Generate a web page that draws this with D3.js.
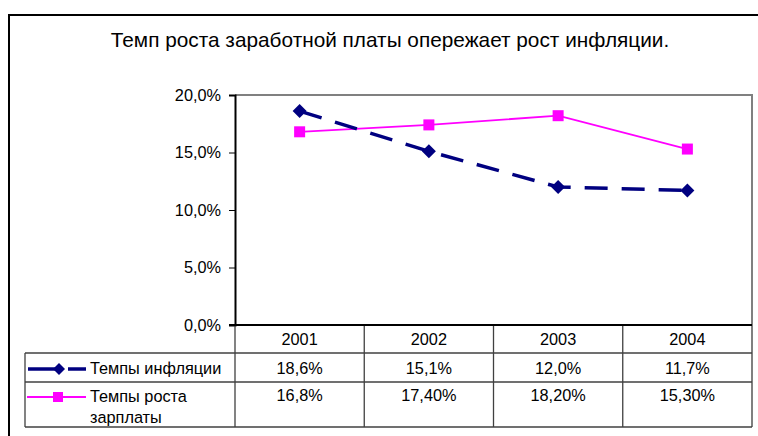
<!DOCTYPE html>
<html>
<head>
<meta charset="utf-8">
<script src="https://cdn.jsdelivr.net/npm/d3@7"></script>
<style>
  body { margin: 0; background: #fff; }
  svg { display: block; font-family: "Liberation Sans", Arial, sans-serif; }
</style>
</head>
<body>
<div id="chart"></div>
<script>
// data
var years = ["2001", "2002", "2003", "2004"];
var inflation = [18.6, 15.1, 12.0, 11.7];
var wages = [16.8, 17.4, 18.2, 15.3];
var inflationLabels = ["18,6%", "15,1%", "12,0%", "11,7%"];
var wagesLabels = ["16,8%", "17,40%", "18,20%", "15,30%"];
var yTicks = [0, 5, 10, 15, 20];
var title = "Темп роста заработной платы опережает рост инфляции.";
var seriesNames = ["Темпы инфляции", "Темпы роста", "зарплаты"];

var W = 758, H = 436;
var svg = d3.select("#chart").append("svg")
  .attr("width", W)
  .attr("height", H);

// outer frame (runs off the right and bottom edges)
svg.append("rect")
  .attr("x", 9).attr("y", 15)
  .attr("width", 800).attr("height", 500)
  .attr("fill", "none")
  .attr("stroke", "#000")
  .attr("stroke-width", 2);

svg.append("text")
  .attr("x", 390).attr("y", 47)
  .attr("text-anchor", "middle")
  .attr("font-size", 20.8)
  .text(title);

var x = d3.scaleBand().domain(years).range([235, 752]).padding(0);
var y = d3.scaleLinear().domain([0, 20]).range([325, 95]);
var cx = function(d) { return x(d) + x.bandwidth() / 2; };

var rowTop = 325, rowYear = 353, rowInf = 382, rowBottom = 427, tableLeft = 25;

// plot border (top + right)
svg.append("path")
  .attr("d", "M" + x.range()[0] + "," + y(20) + "H" + x.range()[1] + "V" + rowBottom)
  .attr("fill", "none")
  .attr("stroke", "#808080")
  .attr("stroke-width", 2);

// y axis
var yAxis = d3.axisLeft(y)
  .tickValues(yTicks)
  .tickSize(6)
  .tickPadding(8)
  .tickFormat(function(d) { return d.toFixed(1).replace(".", ",") + "%"; });

var ga = svg.append("g")
  .attr("transform", "translate(" + x.range()[0] + ",0)")
  .call(yAxis);
ga.select(".domain").attr("stroke", "#000").attr("stroke-width", 2);
ga.selectAll(".tick line").attr("stroke", "#000");
ga.selectAll(".tick text").attr("font-size", 16.3).attr("fill", "#000")
  .style("font-family", "Liberation Sans, Arial, sans-serif");

// table grid
var grid = svg.append("g").attr("stroke", "#404040").attr("stroke-width", 1.3);
[rowYear, rowInf, rowBottom].forEach(function(r) {
  grid.append("line")
    .attr("x1", tableLeft).attr("x2", x.range()[1])
    .attr("y1", r).attr("y2", r);
});
grid.append("line")
  .attr("x1", tableLeft).attr("x2", tableLeft)
  .attr("y1", rowYear).attr("y2", rowBottom);
years.forEach(function(d) {
  grid.append("line")
    .attr("x1", x(d)).attr("x2", x(d))
    .attr("y1", rowTop)
    .attr("y2", rowBottom);
});
svg.append("line")
  .attr("x1", x.range()[0] - 6).attr("x2", x.range()[1])
  .attr("y1", rowTop).attr("y2", rowTop)
  .attr("stroke", "#000").attr("stroke-width", 2);

// table text
var tt = svg.append("g").attr("font-size", 16.3).attr("text-anchor", "middle").attr("fill", "#000");
years.forEach(function(d, i) {
  tt.append("text").attr("x", cx(d)).attr("y", 345).text(d);
  tt.append("text").attr("x", cx(d)).attr("y", 374).text(inflationLabels[i]);
  tt.append("text").attr("x", cx(d)).attr("y", 401).text(wagesLabels[i]);
});

// series
var navy = "#000080", magenta = "#FF00FF";
var line = d3.line()
  .x(function(d, i) { return cx(years[i]); })
  .y(function(d) { return y(d); });

var diamond = "M0,-7L7,0L0,7L-7,0Z";

svg.append("path")
  .datum(wages)
  .attr("d", line)
  .attr("fill", "none")
  .attr("stroke", magenta)
  .attr("stroke-width", 1.8);

svg.selectAll(".sq")
  .data(wages)
  .enter().append("rect")
  .attr("x", function(d, i) { return cx(years[i]) - 5.5; })
  .attr("y", function(d) { return y(d) - 5.5; })
  .attr("width", 11).attr("height", 11)
  .attr("fill", magenta);

svg.append("path")
  .datum(inflation)
  .attr("d", line)
  .attr("fill", "none")
  .attr("stroke", navy)
  .attr("stroke-width", 3.5)
  .attr("stroke-dasharray", "23,14");

svg.selectAll(".dm")
  .data(inflation)
  .enter().append("path")
  .attr("d", diamond)
  .attr("transform", function(d, i) { return "translate(" + cx(years[i]) + "," + y(d) + ")"; })
  .attr("fill", navy);

// legend keys inside table
var lg = svg.append("g");
lg.append("line").attr("x1", 28).attr("x2", 56).attr("y1", 369).attr("y2", 369)
  .attr("stroke", navy).attr("stroke-width", 3.5);
lg.append("line").attr("x1", 68).attr("x2", 86).attr("y1", 369).attr("y2", 369)
  .attr("stroke", navy).attr("stroke-width", 3.5);
lg.append("path").attr("d", "M0,-6L6,0L0,6L-6,0Z")
  .attr("transform", "translate(59,369)").attr("fill", navy);

lg.append("line").attr("x1", 27).attr("x2", 86).attr("y1", 397).attr("y2", 397)
  .attr("stroke", magenta).attr("stroke-width", 1.8);
lg.append("rect").attr("x", 53).attr("y", 392).attr("width", 10).attr("height", 10)
  .attr("fill", magenta);

lg.append("text").attr("x", 90).attr("y", 374).attr("font-size", 16.3).text(seriesNames[0]);
lg.append("text").attr("x", 90).attr("y", 402).attr("font-size", 16.3).text(seriesNames[1]);
lg.append("text").attr("x", 90).attr("y", 423).attr("font-size", 16.3).text(seriesNames[2]);
</script>
</body>
</html>
